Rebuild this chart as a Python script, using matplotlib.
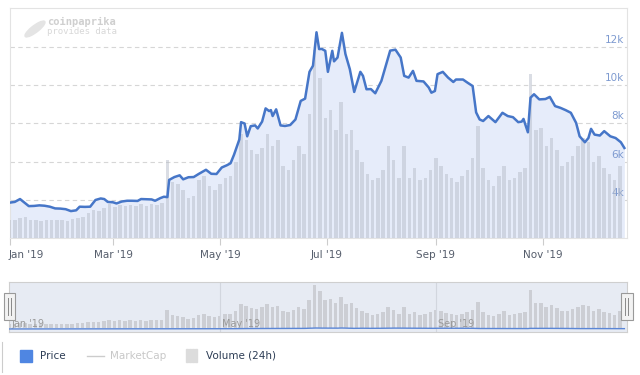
import matplotlib
matplotlib.use("Agg")
import matplotlib.pyplot as plt
from matplotlib.patches import Rectangle, Ellipse
import numpy as np
import pandas as pd

# price (USD); day = days since 1 Jan 2019
price_day = [0, 3, 6, 8, 11, 14, 17, 20, 23, 26, 29, 32, 35, 38, 40, 43, 46, 49, 52, 54,
             56, 59, 61, 64, 67, 70, 73, 75, 78, 81, 83, 86, 88, 90, 91, 94, 97, 99, 102, 105,
             108, 112, 115, 118, 121, 124, 126, 128, 131, 132, 134, 135.5, 137.5, 140, 141.5, 144, 146, 148, 149, 150,
             152, 154.5, 157, 160, 163, 166, 168.5, 171, 173, 175, 176.5, 178, 180, 181.5, 184, 185, 187, 189.5, 191.5, 194,
             196.5, 200, 201.5, 203.5, 206, 208.5, 212, 215, 217, 220, 223, 225, 227.5, 230, 232, 236, 239, 240.5, 242.5, 244,
             247, 250, 253, 254.5, 258.5, 261, 264, 266, 268, 270, 273, 277, 281, 284, 287, 290, 292, 293, 295.5, 297,
             299, 302, 305.5, 308, 311, 314, 317, 320, 323, 325, 328, 330, 331.5, 333.5, 336.5, 339, 342.5, 345.5, 348.5, 350.5]
price_usd = [3860, 3900, 4050, 3900, 3680, 3690, 3720, 3700, 3650, 3560, 3550, 3520, 3420, 3460, 3650, 3640, 3650, 4000, 4080, 4050,
             3900, 3880, 3820, 3920, 3960, 3960, 3950, 4050, 4040, 4030, 3960, 4100, 4170, 4150, 5050, 5200, 5290, 5080, 5190, 5200,
             5370, 5580, 5370, 5360, 5700, 5820, 5920, 6370, 7160, 8070, 8000, 7330, 7860, 7900, 7740, 8100, 8790, 8650, 8700, 8390,
             8740, 7900, 7870, 7920, 8210, 9180, 9300, 10700, 11020, 12770, 11890, 11900, 11800, 10700, 11800, 11250, 11450, 12740, 11630, 10840,
             9650, 10700, 10490, 9790, 9800, 9580, 10230, 11190, 11810, 11860, 11450, 10490, 10400, 10750, 10230, 10200, 9880, 9610, 9700, 10580,
             10700, 10400, 10170, 10300, 10300, 10140, 9960, 8580, 8210, 8130, 8390, 8070, 8560, 8390, 8330, 8070, 8100, 8240, 7540, 9350,
             9530, 9260, 9280, 9390, 8910, 8820, 8700, 8560, 8030, 7330, 7020, 7240, 7720, 7420, 7370, 7600, 7330, 7240, 7020, 6720]

# 24h volume (billion USD), one reading every third day from 1 Jan 2019
volume_b = [4.4, 4.6, 4.9, 5.2, 4.5, 4.6, 4.3, 4.5, 4.4, 4.6, 4.5, 4.3, 4.7, 4.9, 5.3, 6.2, 7.0, 6.8, 7.6, 8.6,
            7.8, 8.2, 7.9, 8.3, 8.1, 8.6, 8.0, 8.4, 8.2, 8.8, 19.5, 14.0, 13.5, 12.0, 10.0, 10.5, 14.5, 15.5, 13.0, 12.0,
            13.5, 15.0, 15.5, 19.0, 26.0, 24.5, 22.0, 21.0, 22.5, 26.0, 23.0, 24.5, 18.0, 17.0, 19.5, 23.0, 21.0, 31.0, 47.0, 40.0,
            30.0, 32.0, 27.0, 34.0, 26.0, 27.0, 22.0, 19.0, 16.0, 14.5, 15.0, 17.0, 23.0, 19.5, 15.0, 23.0, 15.0, 17.5, 14.5, 15.0,
            17.0, 20.0, 18.0, 16.0, 15.0, 14.0, 15.5, 17.0, 20.0, 28.0, 17.5, 14.5, 13.0, 15.5, 18.0, 14.5, 15.0, 16.5, 17.5, 41.0,
            27.0, 27.5, 23.0, 25.0, 22.0, 18.0, 19.0, 20.5, 23.0, 25.0, 24.0, 19.0, 20.5, 17.5, 16.0, 14.5, 18.0]
volume_day = np.arange(len(volume_b)) * 3

start = pd.Timestamp("2019-01-01")
main_ticks = ["2019-01-01", "2019-03-01", "2019-05-01", "2019-07-01", "2019-09-01", "2019-11-01"]
nav_ticks = ["2019-01-01", "2019-05-01", "2019-09-01"]
price_levels = [4000, 6000, 8000, 10000, 12000]

def day_of(s):
    return (pd.Timestamp(s) - start).days

W, H = 640, 375
fig = plt.figure(figsize=(6.4, 3.75), dpi=100)
fig.patch.set_facecolor("white")

def box(l, t, r, b):
    return [l / W, 1 - b / H, (r - l) / W, (b - t) / H]

line_c = "#4676c8"
xmin, xmax = 0, 352

# ---- main chart ----
ax = fig.add_axes(box(9.5, 8, 627, 238))
ax.set_xlim(xmin, xmax)
ax.set_ylim(2013, 14039)
ax.fill_between(price_day, price_usd, 0, color="#e6ecfa", lw=0, zorder=1)
for lv in price_levels:
    ax.axhline(lv, color="#d6d6d6", lw=0.8, ls=(0, (4, 3)), zorder=0.5)
    ax.annotate(f"{lv // 1000}k", (1, lv), xycoords=("axes fraction", "data"),
                xytext=(-2, 1.5), textcoords="offset points", ha="right", va="bottom",
                fontsize=7.5, color="#7d9ad0")
ax.set_yticks([])
ax.set_xticks([day_of(t) for t in main_ticks])
ax.set_xticklabels([])
ax.tick_params(axis="x", length=5, color="#cccccc", width=0.8)
for s in ax.spines.values():
    s.set_color("#e3e3e3")
    s.set_linewidth(0.8)

for i, t in enumerate(main_ticks):
    lab = pd.Timestamp(t).strftime("%b '%y")
    ax.annotate(lab, (day_of(t), 0), xycoords=("data", "axes fraction"),
                xytext=(0 if i else -1, -9), textcoords="offset points",
                ha="left" if i == 0 else "center", va="top", fontsize=7.5, color="#555d6b")

axv = ax.twinx()
axv.set_ylim(0, 57.5)
axv.set_xlim(xmin, xmax)
axv.bar(volume_day, volume_b, width=2.0, color="#b7bdca", alpha=0.5, lw=0, zorder=1)
axv.plot(price_day, price_usd, color=line_c, lw=1.8, transform=ax.transData,
         solid_joinstyle="round", zorder=3)
axv.set_yticks([])
for s in axv.spines.values():
    s.set_visible(False)

# watermark
fig.add_artist(Ellipse((35 / W, 1 - 29 / H), 9 / W, 19 / H, angle=-35,
                       color="#e4e4e4", transform=fig.transFigure))
fig.text(47 / W, 1 - 22 / H, "coinpaprika", fontsize=7.5, family="DejaVu Sans Mono",
         weight="bold", color="#cfcfcf", va="center")
fig.text(47 / W, 1 - 32 / H, "provides data", fontsize=6.5, family="DejaVu Sans Mono",
         color="#d8d8d8", va="center")

# ---- navigator ----
nav = fig.add_axes(box(9, 282, 627, 332))
nav.set_facecolor("#e7ebf3")
nav.set_xlim(xmin, xmax)
nav.set_ylim(-4.4, 50.2)
nav.bar(volume_day, volume_b, width=2.0, color="#c3c5ca", alpha=0.75, lw=0)
for t in nav_ticks[1:]:
    nav.axvline(day_of(t), color="#d2d6de", lw=0.8)
for t in nav_ticks:
    nav.annotate(pd.Timestamp(t).strftime("%b '%y"), (day_of(t), 0),
                 xycoords=("data", "axes fraction"), xytext=(2, 2.5),
                 textcoords="offset points", fontsize=7, color="#9a9a9a", va="bottom")
nav.set_xticks([])
nav.set_yticks([])
for s in nav.spines.values():
    s.set_color("#cfcfcf")
    s.set_linewidth(0.8)
navp = nav.twinx()
navp.set_ylim(-24400, 440600)
navp.set_xlim(xmin, xmax)
navp.plot(price_day, price_usd, color="#5b86d6", lw=1)
navp.set_yticks([])
for s in navp.spines.values():
    s.set_visible(False)

# navigator handles
for hx in (3.5, 620.5):
    fig.add_artist(Rectangle((hx / W, 1 - 320 / H), 12 / W, 27 / H, facecolor="#f2f2f2",
                             edgecolor="#999999", lw=0.8, transform=fig.transFigure))
    for dx in (4.5, 7.5):
        fig.add_artist(plt.Line2D([(hx + dx) / W] * 2, [1 - 298 / H, 1 - 315 / H],
                                  color="#888888", lw=0.7, transform=fig.transFigure))

# ---- legend ----
ly = 1 - 356 / H
fig.add_artist(Rectangle((20 / W, 1 - 362 / H), 12 / W, 12 / H, color="#4f86e2",
                         transform=fig.transFigure))
fig.text(40 / W, ly, "Price", fontsize=7.5, color="#2d3d55", va="center")
fig.add_artist(plt.Line2D([87 / W, 104 / W], [ly, ly], color="#cccccc", lw=1,
                          transform=fig.transFigure))
fig.text(110 / W, ly, "MarketCap", fontsize=7.5, color="#c8c8c8", va="center")
for k in range(4):
    fig.add_artist(Rectangle(((186 + k * 3) / W, 1 - 362 / H), 2 / W, 13 / H,
                             color="#dcdcdc", transform=fig.transFigure))
fig.text(206 / W, ly, "Volume (24h)", fontsize=7.5, color="#2d3d55", va="center")
fig.add_artist(plt.Line2D([2 / W, 2 / W], [1 - 342 / H, 1 - 372 / H], color="#cccccc",
                          lw=0.8, transform=fig.transFigure))

fig.savefig("out.png", dpi=100)
